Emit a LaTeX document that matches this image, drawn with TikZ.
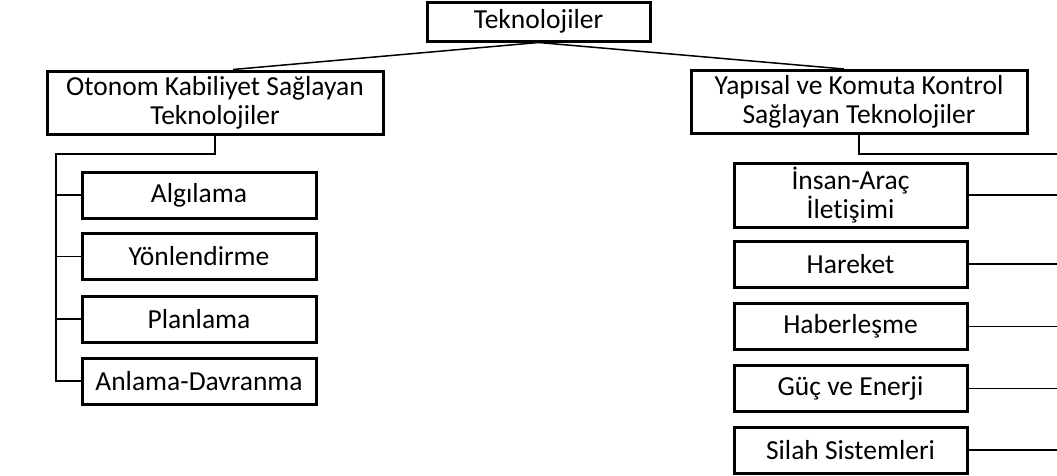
\documentclass[tikz,border=0pt]{standalone}
\usepackage{fontspec}
\setmainfont{Carlito}[Ligatures=NoCommon]
\begin{document}
\begin{tikzpicture}[x=1pt, y=-1pt,
  box/.style={draw, line width=3pt, align=center, inner sep=0pt,
    font=\fontsize{27.5}{29}\selectfont},
  leaf/.style={box, minimum width=234pt, minimum height=46pt},
  link/.style={line width=1.5pt}]
  \useasboundingbox (0,0) rectangle (1057,475);
  \clip (0,0) rectangle (1057,475);

  \node [box, minimum width=223pt, minimum height=39pt] (root) at (538.5,21.5) {Teknolojiler};
  \node [box, minimum width=336pt, minimum height=63pt] (otonom) at (215,102.5)
    {Otonom Kabiliyet Sağlayan\\Teknolojiler};
  \node [box, minimum width=336pt, minimum height=63pt] (yapisal) at (859,102)
    {Yapısal ve Komuta Kontrol\\Sağlayan Teknolojiler};

  \draw [link] (root.south) -- ([xshift=18pt]otonom.north);
  \draw [link] (root.south) -- ([xshift=-15pt]yapisal.north);

  % sol kol
  \node [leaf] (algi)   at (199,195)   {Algılama};
  \node [leaf] (yon)    at (199,256.5) {Yönlendirme};
  \node [leaf] (plan)   at (199,319)   {Planlama};
  \node [leaf] (anlama) at (199,381)   {Anlama-Davranma};

  \coordinate (lbus) at (56,154);
  \draw [link] (otonom.south) |- (lbus) -- (lbus |- anlama.west) -- (anlama.west);
  \foreach \n in {algi, yon, plan}
    \draw [link] (lbus |- \n.west) -- (\n.west);

  % sag kol
  \node [leaf, minimum height=64pt, minimum width=233pt] (insan) at (850.5,195) {İnsan-Araç\\İletişimi};
  \node [leaf, minimum width=233pt] (hareket) at (850.5,264)   {Hareket};
  \node [leaf, minimum width=233pt] (haber)   at (850.5,326.5) {Haberleşme};
  \node [leaf, minimum width=233pt] (guc)     at (850.5,388.5) {Güç ve Enerji};
  \node [leaf, minimum width=233pt] (silah)   at (850.5,450)   {Silah Sistemleri};

  \coordinate (rbus) at (1070,154);
  \draw [link] (yapisal.south) |- (rbus);
  \foreach \n in {insan, hareket, haber, guc, silah}
    \draw [link] (\n.east) -- (rbus |- \n.east);
\end{tikzpicture}
\end{document}
